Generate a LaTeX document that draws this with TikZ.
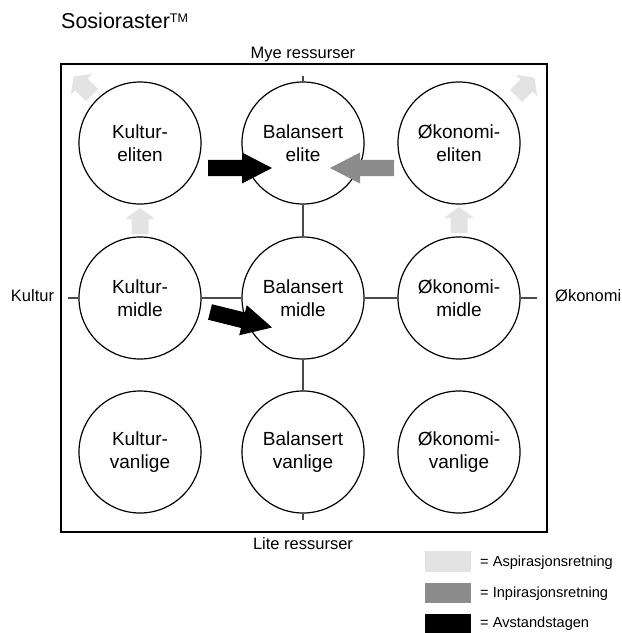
\documentclass[tikz,border=0pt]{standalone}
\usepackage{fontspec}
\setmainfont{Liberation Sans}
\definecolor{aspgray}{HTML}{E3E3E3}
\definecolor{inpgray}{HTML}{8C8C8C}
\definecolor{linegray}{HTML}{4A4A4A}
\tikzset{
 circ/.style={circle, draw=black, line width=1.2bp, fill=white, minimum size=122bp, inner sep=0pt, align=center, font=\fontsize{19bp}{22.5bp}\selectfont},
 axislabel/.style={font=\fontsize{16.5bp}{19bp}\selectfont, inner sep=0pt, anchor=base},
 crossline/.style={draw=linegray, line width=1.1bp},
 swatch/.style={inner sep=0pt, minimum width=46bp, minimum height=20.5bp, anchor=north west},
 legendtext/.style={font=\fontsize{14.6bp}{17bp}\selectfont, anchor=base west, inner sep=0pt},
 bigarrow/.pic={\fill (0,-8) -- (34,-8) -- (34,-15.5) -- (64,0) -- (34,15.5) -- (34,8) -- (0,8) -- cycle;},
 smallarrow/.pic={\fill (0,-8.5) -- (15,-8.5) -- (15,-15) -- (26,0) -- (15,15) -- (15,8.5) -- (0,8.5) -- cycle;},
}
\begin{document}
\begin{tikzpicture}[x=1bp, y=-1bp]
\path[use as bounding box] (0,0) rectangle (622,633);
% title
\node[anchor=base west, inner sep=0pt, font=\fontsize{21.5bp}{25bp}\selectfont] (title) at (61,29) {Sosioraster\raisebox{6bp}{\fontsize{12.5bp}{12.5bp}\selectfont TM}};
% frame
\draw[line width=2bp] (61,64) rectangle (547,532);
% axis labels
\node[axislabel] (mye) at (303,59) {Mye ressurser};
\node[axislabel] (lite) at (303,549) {Lite ressurser};
\node[axislabel] (kultur) at (32.5,301) {Kultur};
\node[axislabel, anchor=base west] (okonomi) at (555,301) {Økonomi};
% circles
\node[circ] (ke) at (140,143) {Kultur-\\eliten};
\node[circ] (be) at (303,143) {Balansert\\elite};
\node[circ] (oe) at (459,143) {Økonomi-\\eliten};
\node[circ] (km) at (140,298) {Kultur-\\midle};
\node[circ] (bm) at (303,298) {Balansert\\midle};
\node[circ] (om) at (459,298) {Økonomi-\\midle};
\node[circ] (kv) at (140,452) {Kultur-\\vanlige};
\node[circ] (bv) at (303,452) {Balansert\\vanlige};
\node[circ] (ov) at (459,452) {Økonomi-\\vanlige};
% cross lines
\coordinate (vtop) at (303,76);
\coordinate (vbot) at (303,520);
\coordinate (hleft) at (68,298);
\coordinate (hright) at (537,298);
\draw[crossline] (vtop) -- (be);
\draw[crossline] (be) -- (bm);
\draw[crossline] (bm) -- (bv);
\draw[crossline] (bv) -- (vbot);
\draw[crossline] (hleft) -- (km);
\draw[crossline] (km) -- (bm);
\draw[crossline] (bm) -- (om);
\draw[crossline] (om) -- (hright);
% block arrows
\pic[fill=black] at (208,168) {bigarrow};
\pic[fill=inpgray, rotate=180] at (394,168) {bigarrow};
\pic[fill=black, rotate=-14] at (210,312) {bigarrow};
\pic[fill=aspgray, rotate=90] at (140,234) {smallarrow};
\pic[fill=aspgray, rotate=90] at (459,233) {smallarrow};
\pic[fill=aspgray, rotate=135] at (92,95) {smallarrow};
\pic[fill=aspgray, rotate=45] at (516,96) {smallarrow};
% legend
\node[swatch, fill=aspgray] (sw1) at (425,551) {};
\node[swatch, fill=inpgray] (sw2) at (425,582.5) {};
\node[swatch, fill=black] (sw3) at (425,614) {};
\node[legendtext] (lt1) at (480,566) {= Aspirasjonsretning};
\node[legendtext] (lt2) at (480,597) {= Inpirasjonsretning};
\node[legendtext] (lt3) at (480,627) {= Avstandstagen};
\end{tikzpicture}
\end{document}
